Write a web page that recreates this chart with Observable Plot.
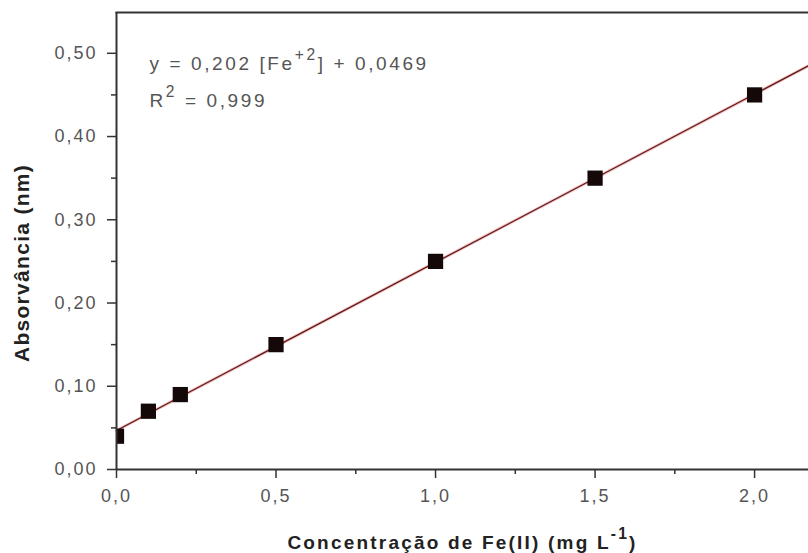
<!DOCTYPE html>
<html><head><meta charset="utf-8">
<script src="https://cdn.jsdelivr.net/npm/d3@7"></script>
<script src="https://cdn.jsdelivr.net/npm/@observablehq/plot@0.6"></script>
<style>body{margin:0;background:#fff} svg{display:block}</style>
</head><body><div id="chart"></div>
<script>
// Data
const concentration = [0, 0.1, 0.2, 0.5, 1.0, 1.5, 2.0];
const absorbance = [0.04, 0.07, 0.09, 0.15, 0.25, 0.35, 0.45];
const slope = 0.202;
const intercept = 0.0469;
const xMajorTicks = [0, 0.5, 1.0, 1.5, 2.0];
const xMinorTicks = [0.25, 0.75, 1.25, 1.75];
const yMajorTicks = [0, 0.1, 0.2, 0.3, 0.4, 0.5];
const yMinorTicks = [0.05, 0.15, 0.25, 0.35, 0.45];
const xDomain = [0, 2.169];
const yDomain = [0, 0.549];
const xTitle = "Concentração de Fe(II) (mg L^{-1})";
const yTitle = "Absorvância (nm)";
const equationLine1 = "y = 0,202 [Fe^{+2}] + 0,0469";
const equationLine2 = "R^{2} = 0,999";

const points = concentration.map((x, i) => ({x, y: absorbance[i]}));
const fit = xDomain.map(x => ({x, y: slope * x + intercept}));
const fmtY = d => d3.format(".2f")(d).replace(".", ",");
const fmtX = d => d3.format(".1f")(d).replace(".", ",");

const FONT = "'Liberation Sans', Arial, Helvetica, sans-serif";
const axisColor = "#333";

const plot = Plot.plot({
  width: 808, height: 553,
  marginLeft: 116, marginRight: 0, marginTop: 12, marginBottom: 84,
  style: {fontFamily: FONT, background: "#fff", overflow: "visible"},
  x: {domain: xDomain},
  y: {domain: yDomain},
  marks: [
    Plot.frame({anchor: "top", stroke: axisColor, strokeWidth: 2}),
    Plot.line(fit, {x: "x", y: "y", stroke: "#e06a6a", strokeWidth: 3, strokeOpacity: 0.45}),
    Plot.line(fit, {x: "x", y: "y", stroke: "#5a1414", strokeWidth: 1.2}),
    Plot.dot(points, {x: "x", y: "y", symbol: "square", r: 8.6, fill: "#140808", stroke: "none", clip: true}),
    Plot.ruleX([0], {stroke: axisColor, strokeWidth: 2}),
    Plot.ruleY([0], {stroke: axisColor, strokeWidth: 2}),
    Plot.axisY(yMinorTicks, {tickSize: 5, tickFormat: () => "", stroke: axisColor, strokeWidth: 1.5, label: null}),
    Plot.axisY(yMajorTicks, {tickSize: 9, tickPadding: 10, tickFormat: fmtY, fontSize: 18, stroke: axisColor, fill: "#555", strokeWidth: 1.5, label: null}),
    Plot.axisX(xMinorTicks, {tickSize: 5, tickFormat: () => "", stroke: axisColor, strokeWidth: 1.5, label: null}),
    Plot.axisX(xMajorTicks, {tickSize: 9, tickPadding: 11, tickFormat: fmtX, fontSize: 18, stroke: axisColor, fill: "#555", strokeWidth: 1.5, label: null}),
    Plot.text([equationLine1], {frameAnchor: "top-left", text: d => d, dx: 33, dy: 57, lineAnchor: "bottom", textAnchor: "start", fontSize: 19, fill: "#555"}),
    Plot.text([equationLine2], {frameAnchor: "top-left", text: d => d, dx: 33, dy: 94, lineAnchor: "bottom", textAnchor: "start", fontSize: 19, fill: "#555"}),
    Plot.text([xTitle], {frameAnchor: "bottom", text: d => d, dy: 79, lineAnchor: "bottom", textAnchor: "middle", fontSize: 19, fontWeight: "bold", fill: "#222"}),
    Plot.text([yTitle], {frameAnchor: "left", text: d => d, rotate: -90, dx: -88, dy: 22, lineAnchor: "bottom", textAnchor: "middle", fontSize: 21, fontWeight: "bold", fill: "#222"})
  ]
});

document.getElementById("chart").append(plot);
const svg = d3.select(plot);

const byText = s => svg.selectAll("text").filter(function() { return this.textContent === s; });

// letter spacing to match the wide rendering of the reference
svg.selectAll("g[aria-label='y-axis tick label'] text, g[aria-label='x-axis tick label'] text").attr("letter-spacing", "2px");
byText(equationLine1).attr("letter-spacing", "2.6px").attr("class", "sup");
byText(equationLine2).attr("letter-spacing", "2.6px").attr("class", "sup");
byText(xTitle).attr("letter-spacing", "2.2px").attr("class", "sup");
byText(yTitle).attr("letter-spacing", "1.3px");

// superscripts written as ^{...}
function supify(el) {
  const txt = el.textContent;
  if (!txt.includes("^{")) return;
  const fs = parseFloat(getComputedStyle(el).fontSize) || 16;
  while (el.firstChild) el.removeChild(el.firstChild);
  const parts = txt.split(/\^\{([^}]*)\}/);
  const NS = "http://www.w3.org/2000/svg";
  let raised = false;
  parts.forEach((p, i) => {
    if (p === "") return;
    const t = document.createElementNS(NS, "tspan");
    if (i % 2 === 1) {
      t.setAttribute("font-size", (fs * 0.82).toFixed(1));
      t.setAttribute("dy", (-fs * 0.5).toFixed(1));
      raised = true;
    } else if (raised) {
      t.setAttribute("dy", (fs * 0.5).toFixed(1));
      raised = false;
    }
    t.textContent = p;
    el.appendChild(t);
  });
}
svg.selectAll("text.sup").each(function() { supify(this); });
</script>
</body></html>
